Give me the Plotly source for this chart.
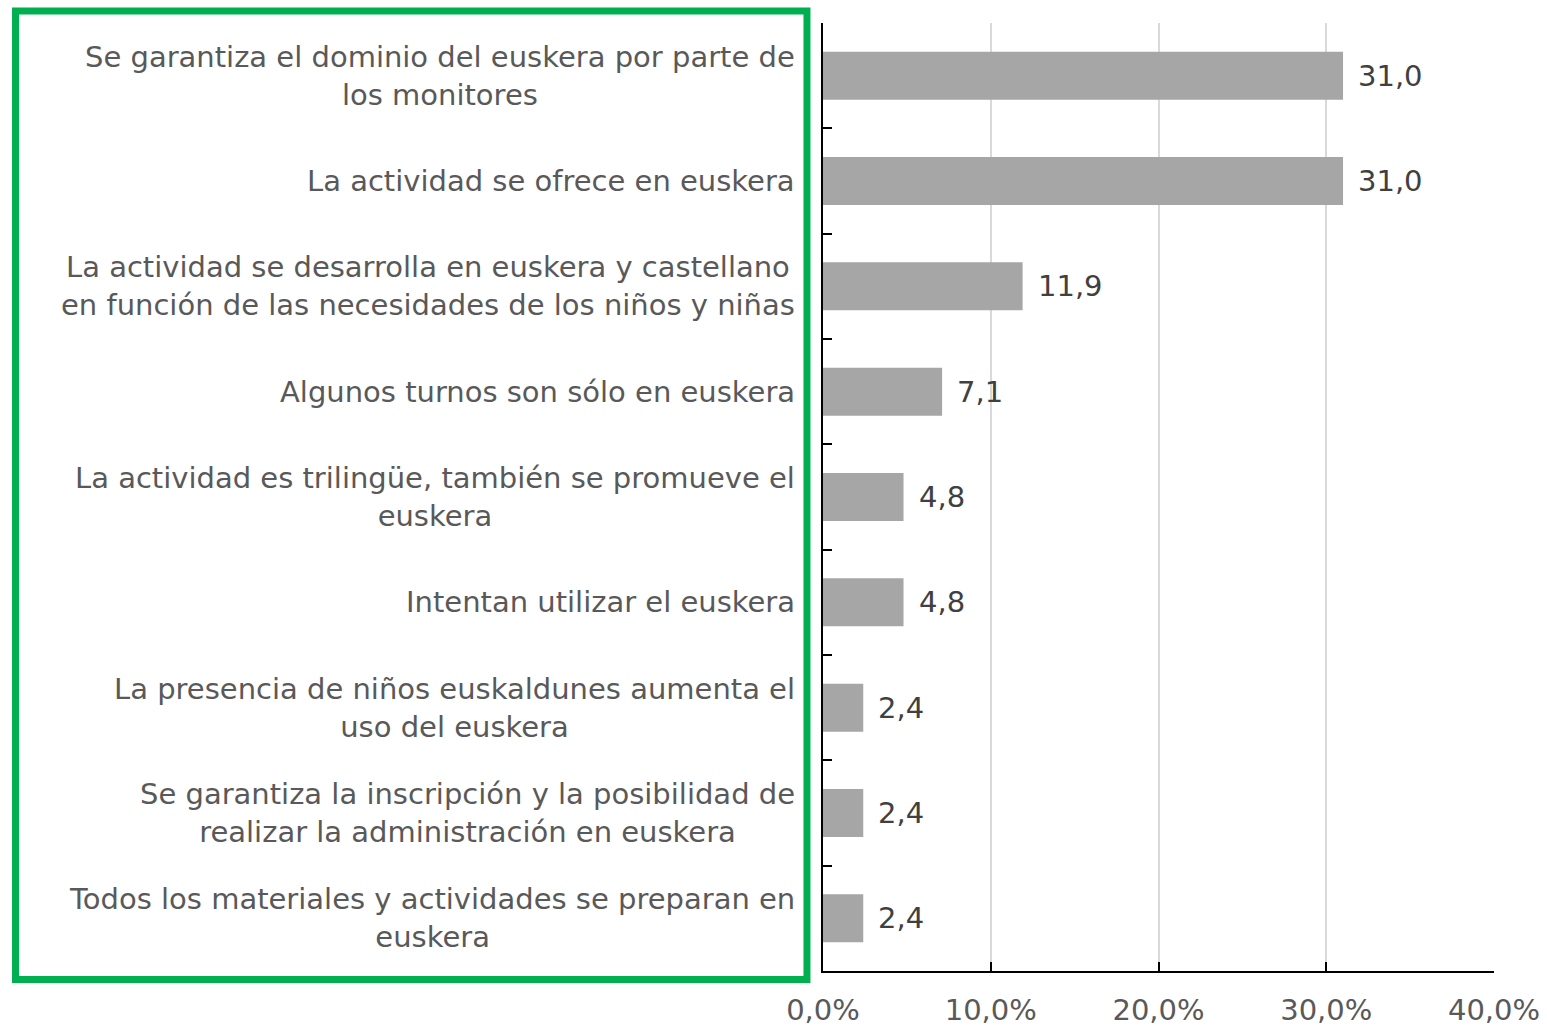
import plotly.graph_objects as go

categories = [
    "Se garantiza el dominio del euskera por parte de<br>los monitores",
    "La actividad se ofrece en euskera",
    "La actividad se desarrolla en euskera y castellano<br>en función de las necesidades de los niños y niñas",
    "Algunos turnos son sólo en euskera",
    "La actividad es trilingüe, también se promueve el<br>euskera",
    "Intentan utilizar el euskera",
    "La presencia de niños euskaldunes aumenta el<br>uso del euskera",
    "Se garantiza la inscripción y la posibilidad de<br>realizar la administración en euskera",
    "Todos los materiales y actividades se preparan en<br>euskera",
]
values = [31.0, 31.0, 11.9, 7.1, 4.8, 4.8, 2.4, 2.4, 2.4]
x_ticks = [0, 10, 20, 30, 40]
x_tick_labels = ["0,0%", "10,0%", "20,0%", "30,0%", "40,0%"]

FONT = "DejaVu Sans"
FS = 29

ids = [f"c{i}" for i in range(len(categories))]

fig = go.Figure()
fig.add_trace(go.Bar(
    x=values, y=ids, orientation="h",
    marker=dict(color="#a6a6a6", line=dict(width=0)),
    hoverinfo="skip",
))

annotations = []
for cid, cat in zip(ids, categories):
    annotations.append(dict(
        x=0, xref="paper", y=cid, yref="y", text=cat, showarrow=False,
        xanchor="right", yanchor="middle", align="center", xshift=-26,
        font=dict(family=FONT, size=FS, color="#595959"),
    ))
for cid, v in zip(ids, values):
    annotations.append(dict(
        x=v, xref="x", y=cid, yref="y", text=f"{v:.1f}".replace(".", ","),
        showarrow=False, xanchor="left", yanchor="middle", xshift=13,
        font=dict(family=FONT, size=FS, color="#404040"),
    ))

fig.update_layout(
    width=1547, height=1027,
    margin=dict(l=823, r=53, t=23, b=56, autoexpand=False),
    paper_bgcolor="white", plot_bgcolor="white",
    separators=",.",
    bargap=0.544,
    showlegend=False,
    annotations=annotations,
    shapes=[dict(
        type="rect", xref="paper", yref="paper",
        x0=-1.2034, x1=-0.0239, y0=-0.009, y1=1.0127,
        line=dict(color="#00b050", width=7), fillcolor="rgba(0,0,0,0)",
        layer="above",
    )],
    font=dict(family=FONT, size=FS, color="#595959"),
)

fig.update_xaxes(
    range=[0, 40], tickmode="array", tickvals=x_ticks, ticktext=x_tick_labels,
    showgrid=True, gridcolor="#d9d9d9", gridwidth=1.5, zeroline=False,
    showline=True, linecolor="black", linewidth=1.5,
    ticks="inside", ticklen=9, tickcolor="black", tickwidth=1.5,
    tickfont=dict(family=FONT, size=FS, color="#595959"),
    ticklabelstandoff=12, automargin=False,
)
fig.update_yaxes(
    autorange="reversed", showticklabels=False, showgrid=False, zeroline=False,
    showline=True, linecolor="black", linewidth=1.5,
    ticks="inside", ticklen=9, tickcolor="black", tickwidth=1.5,
    tickson="boundaries", automargin=False,
)

fig.write_html("out.html", config={"displayModeBar": False},
               post_script="document.body.style.margin='0';")
